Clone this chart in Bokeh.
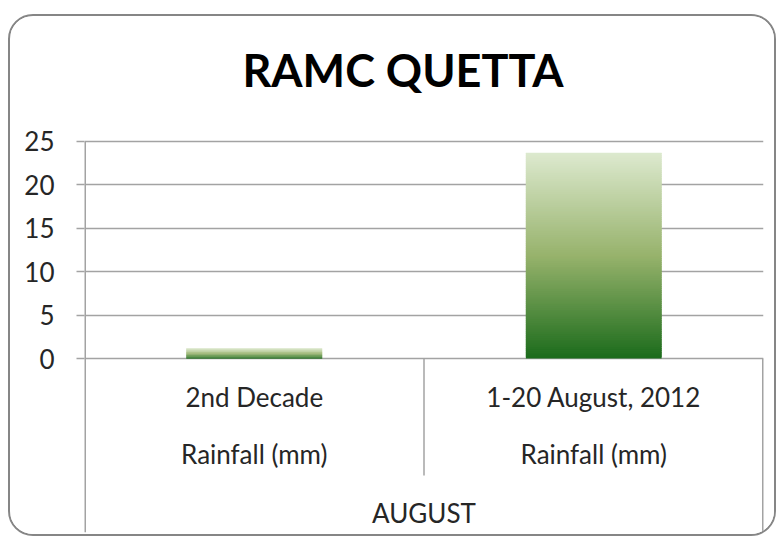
from bokeh.plotting import figure
from bokeh.models import Range1d, FixedTicker, ColumnDataSource
from bokeh.core.properties import value
from bokeh.embed import file_html
from bokeh.resources import INLINE

# ---- data ----
title_text = "RAMC QUETTA"
categories = ["2nd Decade", "1-20 August, 2012"]
sub_label = "Rainfall (mm)"
group_label = "AUGUST"
rainfall = [1.2, 23.7]
y_ticks = [0, 5, 10, 15, 20, 25]

# ---- style / layout ----
FONT = "Lato"
TXT = "#262626"
GRID = "#a3a3a3"
PX_PER_UNIT = 217.3 / 25.0
FRAME_BELOW_PX = 174.0
FRAME_ABOVE_PX = 125.0
y_top = y_ticks[-1]
y_start = -FRAME_BELOW_PX / PX_PER_UNIT
y_end = y_top + FRAME_ABOVE_PX / PX_PER_UNIT
bar_width = 0.40
stops = [(0.0, (27, 107, 27)), (0.5, (151, 179, 108)), (1.0, (221, 233, 207))]
N = 110


def grad(t):
    for (t0, c0), (t1, c1) in zip(stops[:-1], stops[1:]):
        if t0 <= t <= t1:
            f = (t - t0) / (t1 - t0)
            return "#%02x%02x%02x" % tuple(int(round(a + (b - a) * f)) for a, b in zip(c0, c1))
    return "#%02x%02x%02x" % stops[-1][1]


p = figure(width=768, height=522, output_backend="svg", toolbar_location=None,
           x_range=Range1d(0, len(categories)), y_range=Range1d(y_start, y_end),
           x_axis_location=None, min_border_left=74, min_border_right=15,
           min_border_top=0, min_border_bottom=6)
p.margin = (14, 0, 0, 8)
p.styles = {"border": "2px solid #868686", "border-radius": "25px", "overflow": "hidden"}
p.outline_line_color = None
p.background_fill_color = "white"
p.border_fill_color = "white"
p.title.visible = False

yax = p.yaxis[0]
yax.ticker = FixedTicker(ticks=y_ticks)
yax.axis_line_color = None
yax.major_tick_line_color = GRID
yax.major_tick_line_width = 1.5
yax.major_tick_out = 8
yax.major_tick_in = 0
yax.minor_tick_line_color = None
yax.major_label_text_font = FONT
yax.major_label_text_font_size = "26px"
yax.major_label_text_color = TXT
yax.major_label_standoff = 22

p.xgrid.visible = False
p.ygrid.ticker = FixedTicker(ticks=y_ticks)
p.ygrid.grid_line_color = GRID
p.ygrid.grid_line_width = 1.5

# gradient bars built as thin overlapping slices of each bar (bottom to top)
L, R, B, T, C = [], [], [], [], []
for i, v in enumerate(rainfall):
    cx = i + 0.5
    for k in range(N):
        L.append(cx - bar_width / 2)
        R.append(cx + bar_width / 2)
        B.append(v * k / N)
        T.append(min(v, v * (k + 1.8) / N))
        C.append(grad((k + 0.5) / N))
src = ColumnDataSource(dict(left=L, right=R, bottom=B, top=T, color=C))
p.quad(left="left", right="right", bottom="bottom", top="top", source=src,
       fill_color="color", line_color=None)

# value-axis line and category axis separators (edge lines are half clipped by the frame)
n = len(categories)
p.segment(x0=[0, n], y0=[y_top, 0], x1=[0, n], y1=[y_start, y_start], line_color=GRID, line_width=3)
p.segment(x0=list(range(1, n)), y0=[0] * (n - 1), x1=list(range(1, n)),
          y1=[-117 / PX_PER_UNIT] * (n - 1), line_color=GRID, line_width=1.5)

# chart title
p.text(x=[n / 2], y=[y_top], text=[title_text], text_font=value(FONT), text_font_style="bold",
       text_font_size="45px", text_color="black", text_align="center",
       text_baseline="alphabetic", x_offset=-21, y_offset=-71)

centers = [i + 0.5 for i in range(n)]
p.text(x=centers, y=[0] * n, text=categories, text_font=value(FONT), text_font_size="26px",
       text_color=TXT, text_align="center", text_baseline="alphabetic", y_offset=38)
p.text(x=centers, y=[0] * n, text=[sub_label] * n, text_font=value(FONT), text_font_size="26px",
       text_color=TXT, text_align="center", text_baseline="alphabetic", y_offset=95)
p.text(x=[n / 2], y=[0], text=[group_label], text_font=value(FONT), text_font_size="26px",
       text_color=TXT, text_align="center", text_baseline="alphabetic", y_offset=154)

open("out.html", "w").write(file_html(p, INLINE))
